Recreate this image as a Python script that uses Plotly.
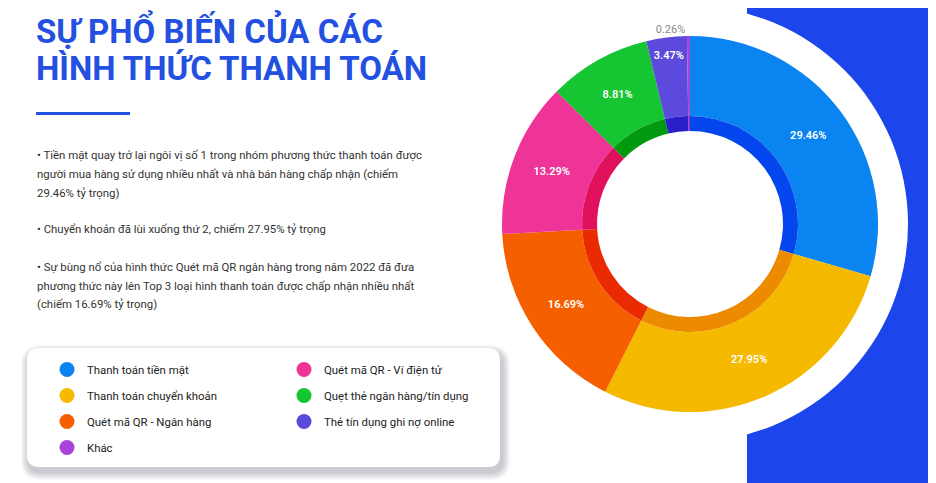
import plotly.graph_objects as go

# ---------------- data ----------------
categories = ["Thanh toán tiền mặt", "Thanh toán chuyển khoản", "Quét mã QR - Ngân hàng",
              "Quét mã QR - Ví điện tử", "Quẹt thẻ ngân hàng/tín dụng",
              "Thẻ tín dụng ghi nợ online", "Khác"]
shares = [29.46, 27.95, 16.69, 13.29, 8.81, 3.47, 0.26]
outer_colors = ["#0a84f0", "#f5b900", "#f55f00", "#ee3597", "#16c532", "#5b4adb", "#a844d8"]
inner_colors = ["#0346ee", "#ec8a00", "#ea2a00", "#e0105c", "#009a10", "#2a1fc8", "#8a2ad0"]

title_lines = ["SỰ PHỔ BIẾN CỦA CÁC", "HÌNH THỨC THANH TOÁN"]
body_lines = [
    "• Tiền mặt quay trở lại ngôi vị số 1 trong nhóm phương thức thanh toán được",
    "người mua hàng sử dụng nhiều nhất và nhà bán hàng chấp nhận (chiếm",
    "29.46% tỷ trọng)",
    "• Chuyển khoản đã lùi xuống thứ 2, chiếm 27.95% tỷ trọng",
    "• Sự bùng nổ của hình thức Quét mã QR ngân hàng trong năm 2022 đã đưa",
    "phương thức này lên Top 3 loại hình thanh toán được chấp nhận nhiều nhất",
    "(chiếm 16.69% tỷ trọng)",
]

# ---------------- layout helpers ----------------
W, H = 936, 483
OFF = 8  # page body margin in the browser
def px(x): return (x - OFF) / W
def py(y): return 1 - (y - OFF) / H

CX, CY = 690, 224
R_OUT, R_MID, R_HOLE = 188, 108, 93

fig = go.Figure()

# outer ring
fig.add_trace(go.Pie(
    labels=categories, values=shares, sort=False, direction="clockwise", rotation=0,
    hole=R_MID / R_OUT,
    domain=dict(x=[px(CX - R_OUT), px(CX + R_OUT)], y=[py(CY + R_OUT), py(CY - R_OUT)]),
    marker=dict(colors=outer_colors, line=dict(width=0)),
    texttemplate="%{value:.2f}%",
    textposition=["inside"] * (len(shares) - 1) + ["outside"],
    insidetextorientation="horizontal",
    insidetextfont=dict(family="Roboto", size=11, color="white", weight=600),
    outsidetextfont=dict(family="Roboto", size=11, color="#8a8a8a"),
    showlegend=False, hoverinfo="label+value",
))

# inner darker ring
fig.add_trace(go.Pie(
    labels=categories, values=shares, sort=False, direction="clockwise", rotation=0,
    hole=R_HOLE / R_MID,
    domain=dict(x=[px(CX - R_MID), px(CX + R_MID)], y=[py(CY + R_MID), py(CY - R_MID)]),
    marker=dict(colors=inner_colors, line=dict(width=0)),
    textinfo="none", showlegend=False, hoverinfo="skip",
))

# legend entries (two columns)
for i, (name, col) in enumerate(zip(categories, outer_colors)):
    leg = "legend" if (i < 3 or i == 6) else "legend2"
    fig.add_trace(go.Scatter(
        x=[None], y=[None], mode="markers", name=name, legend=leg, legendgroup=name,
        marker=dict(size=15, color=col, symbol="circle"),
    ))

shapes = []
# blue right panel
shapes.append(dict(type="rect", xref="paper", yref="paper", x0=px(747), x1=1.05, y0=-0.05, y1=py(0),
                   fillcolor="#1c46ec", line=dict(width=0), layer="below"))
RW = 218
shapes.append(dict(type="circle", xref="paper", yref="paper",
                   x0=px(CX - RW), x1=px(CX + RW), y0=py(CY + RW), y1=py(CY - RW),
                   fillcolor="white", line=dict(width=0), layer="below"))
# title underline
shapes.append(dict(type="rect", xref="paper", yref="paper", x0=px(36), x1=px(130),
                   y0=py(115), y1=py(112), fillcolor="#2350e0", line=dict(width=0)))

def rrect(x0, y0, x1, y1, r):
    def P(x, y): return f"{px(x):.5f},{py(y):.5f}"
    return (f"M {P(x0 + r, y0)} L {P(x1 - r, y0)} Q {P(x1, y0)} {P(x1, y0 + r)} "
            f"L {P(x1, y1 - r)} Q {P(x1, y1)} {P(x1 - r, y1)} L {P(x0 + r, y1)} "
            f"Q {P(x0, y1)} {P(x0, y1 - r)} L {P(x0, y0 + r)} Q {P(x0, y0)} {P(x0 + r, y0)} Z")

# legend box shadow
for k in range(8, 0, -1):
    shapes.append(dict(type="path", xref="paper", yref="paper",
                       path=rrect(27 - k + 2, 348 - k + 5, 500 + k + 2, 467 + k + 5, 12 + k),
                       fillcolor="rgba(60,70,90,0.035)", line=dict(width=0), layer="below"))
shapes.append(dict(type="path", xref="paper", yref="paper", path=rrect(27, 348, 500, 467, 12),
                   fillcolor="white", line=dict(width=0), layer="below"))

annotations = []
for j, line in enumerate(title_lines):
    annotations.append(dict(text=f"<b>{line}</b>", x=px(34), y=py(30 + 38 * j), xref="paper", yref="paper",
                            xanchor="left", yanchor="middle", showarrow=False,
                            font=dict(family="Roboto", size=33, color="#2350e0", weight=900)))
body_y = [155, 174, 193, 229, 267, 286, 304]
for line, yy in zip(body_lines, body_y):
    annotations.append(dict(text=line, x=px(35), y=py(yy), xref="paper", yref="paper",
                            xanchor="left", yanchor="middle", showarrow=False,
                            font=dict(family="Roboto", size=11.4, color="#333333")))

leg_font = dict(family="Roboto", size=11.4, color="#222222")
fig.update_layout(
    width=W, height=H, margin=dict(l=0, r=0, t=0, b=0),
    paper_bgcolor="white", plot_bgcolor="white",
    xaxis=dict(visible=False), yaxis=dict(visible=False),
    shapes=shapes, annotations=annotations,
    legend=dict(x=px(47), y=py(355), xanchor="left", yanchor="top", font=leg_font,
                bgcolor="rgba(0,0,0,0)", itemsizing="trace", traceorder="grouped",
                tracegroupgap=7),
    legend2=dict(x=px(284), y=py(355), xanchor="left", yanchor="top", font=leg_font,
                 bgcolor="rgba(0,0,0,0)", itemsizing="trace", traceorder="grouped",
                 tracegroupgap=7),
    font=dict(family="Roboto"),
)

fig.write_html("out.html")
